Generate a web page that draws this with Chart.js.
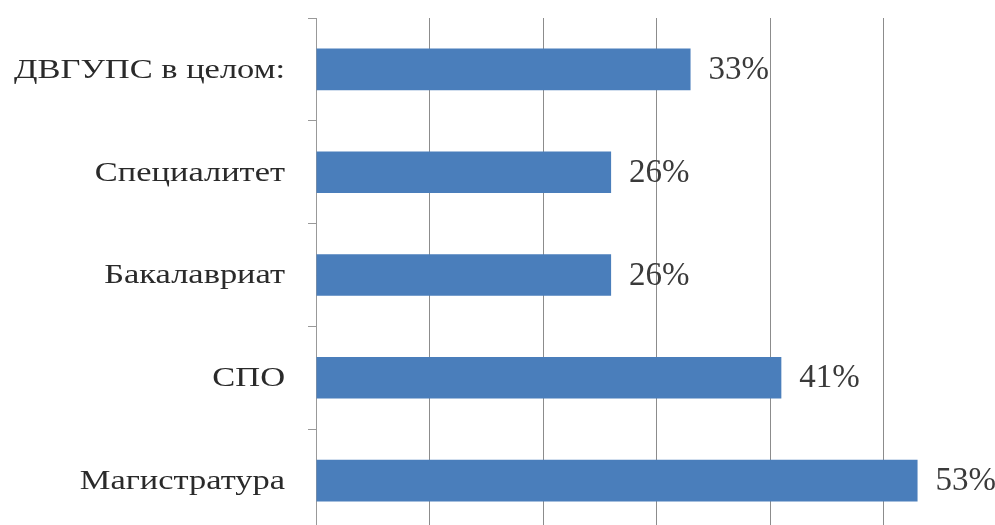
<!DOCTYPE html>
<html lang="ru">
<head>
  <meta charset="UTF-8">
  <title>Доля</title>
  <script src="https://cdn.jsdelivr.net/npm/chart.js"></script>
  <style>
    html, body { margin: 0; padding: 0; background: #fff; overflow: hidden; }
    .wrap { width: 1000px; height: 532px; }
  </style>
</head>
<body>
  <div class="wrap">
    <canvas id="grafico"></canvas>
  </div>

  <script>
    const categorias = ['ДВГУПС в целом:', 'Специалитет', 'Бакалавриат', 'СПО', 'Магистратура'];
    const valores = [33, 26, 26, 41, 53];
    const eixoMin = 0;
    const eixoMax = 60;
    const passo = 10;

    const fonteSerif = '"Liberation Serif", "Times New Roman", serif';

    // rotulos das categorias (um pouco esticados na horizontal, como no original)
    // e rotulos de valor ao lado das barras
    const rotulos = {
      id: 'rotulos',
      afterDatasetsDraw(chart) {
        const ctx = chart.ctx;
        const y = chart.scales.y;
        const meta = chart.getDatasetMeta(0);
        const esticar = 1.23;

        ctx.save();
        ctx.font = '28px ' + fonteSerif;
        ctx.fillStyle = '#2a2a2a';
        ctx.textBaseline = 'middle';
        ctx.textAlign = 'right';
        const xDir = y.right - 31;
        categorias.forEach((nome, i) => {
          const py = y.getPixelForTick(i);
          ctx.save();
          ctx.translate(xDir, py + 1);
          ctx.scale(esticar, 1);
          ctx.fillText(nome, 0, 0);
          ctx.restore();
        });
        ctx.restore();

        ctx.save();
        ctx.font = '33px ' + fonteSerif;
        ctx.fillStyle = '#3a3a3a';
        ctx.textBaseline = 'middle';
        ctx.textAlign = 'left';
        meta.data.forEach((bar, i) => {
          ctx.fillText(valores[i] + '%', bar.x + 18, bar.y + 1);
        });
        ctx.restore();
      }
    };

    new Chart(document.getElementById('grafico'), {
      type: 'bar',
      data: {
        labels: categorias,
        datasets: [{
          data: valores,
          backgroundColor: '#4a7ebb',
          barPercentage: 1,
          categoryPercentage: 0.405
        }]
      },
      options: {
        indexAxis: 'y',
        responsive: true,
        maintainAspectRatio: false,
        animation: false,
        layout: { padding: { top: 18, right: 3, left: 0, bottom: 0 } },
        plugins: {
          legend: { display: false },
          tooltip: { enabled: false }
        },
        scales: {
          x: {
            min: eixoMin, max: eixoMax,
            ticks: { display: false, stepSize: passo },
            grid: { color: '#8c8c8c', drawTicks: false },
            border: { display: false }
          },
          y: {
            afterFit(scale) {
              scale.width = 316;
              scale.paddingTop = 0;
              scale.paddingBottom = 0;
            },
            ticks: { display: false },
            grid: { drawOnChartArea: false, tickLength: 8, color: '#999', offset: true },
            border: { color: '#999' }
          }
        }
      },
      plugins: [rotulos]
    });
  </script>
</body>
</html>
